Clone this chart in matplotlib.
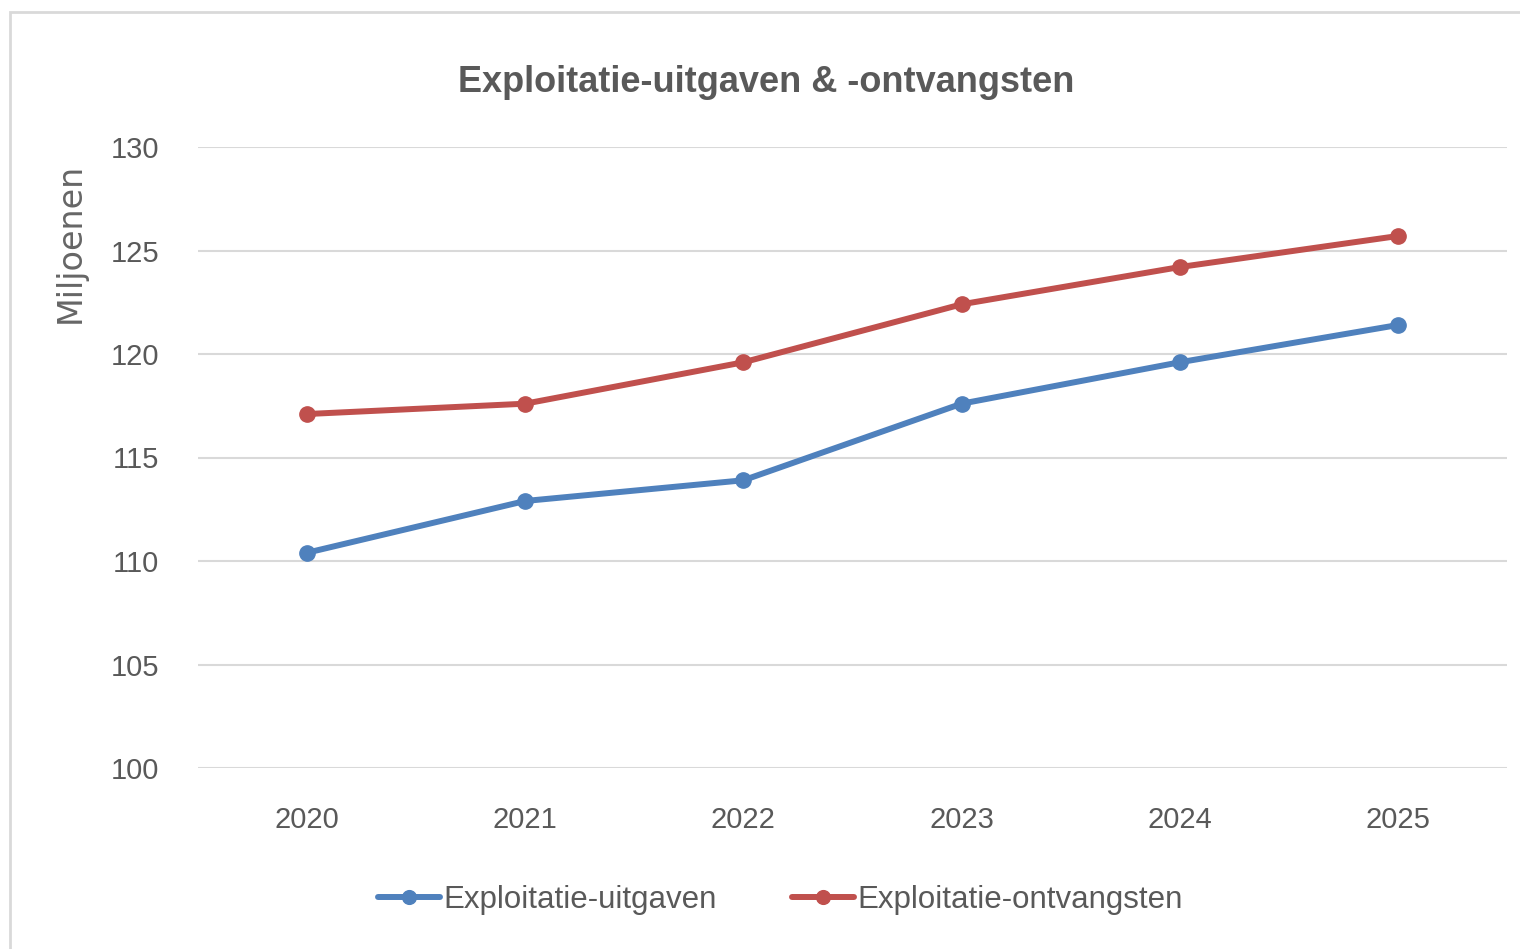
import matplotlib
matplotlib.use("Agg")
import matplotlib.pyplot as plt
from matplotlib.patches import Rectangle

years = ["2020", "2021", "2022", "2023", "2024", "2025"]
uitgaven = [110.4, 112.9, 113.9, 117.6, 119.6, 121.4]
ontvangsten = [117.1, 117.6, 119.6, 122.4, 124.2, 125.7]
yticks = [100, 105, 110, 115, 120, 125, 130]

FONT = ["Liberation Sans", "DejaVu Sans"]
TXT = "#595959"

fig = plt.figure(figsize=(15.2, 9.49), dpi=100)
fig.patches.append(Rectangle((10/1520, -0.01), 1.02, 1 - 12/949 + 0.01,
                             transform=fig.transFigure, fill=False,
                             edgecolor="#d9d9d9", linewidth=2))

ax = fig.add_axes([198/1520, 1 - 768/949, (1507-198)/1520, (768-147)/949])
x = list(range(len(years)))
ax.plot(x, uitgaven, color="#4F81BD", lw=4.3, marker="o", ms=11,
        label="Exploitatie-uitgaven", solid_capstyle="round")
ax.plot(x, ontvangsten, color="#C0504D", lw=4.3, marker="o", ms=11,
        label="Exploitatie-ontvangsten", solid_capstyle="round")

ax.set_xlim(-0.5, len(years) - 0.5)
ax.set_ylim(100, 130)
ax.set_yticks(yticks)
ax.set_xticks(x)
ax.set_xticklabels(years)
ax.grid(axis="y", color="#d9d9d9", lw=1.5)
ax.set_axisbelow(True)
for s in ax.spines.values():
    s.set_visible(False)
ax.tick_params(length=0, labelsize=21, labelcolor=TXT)
ax.tick_params(axis="y", pad=28)
ax.tick_params(axis="x", pad=27)
for lab in ax.get_xticklabels() + ax.get_yticklabels():
    lab.set_family(FONT)

fig.text(766/1520, 1 - 82/949, "Exploitatie-uitgaven & -ontvangsten",
         ha="center", va="center", fontsize=26, fontweight="bold",
         color=TXT, family=FONT)
fig.text(70/1520, 1 - 243/949, "Miljoenen", rotation=90, ha="center",
         va="center", fontsize=24, color="#666666",
         family=["DejaVu Sans"])

leg = fig.legend(loc="center", bbox_to_anchor=(780/1520, 1 - 900/949),
                 ncol=2, frameon=False, handlelength=2.0, handletextpad=0.1,
                 columnspacing=2.4, markerscale=0.9,
                 prop={"family": FONT, "size": 22.5})
for t in leg.get_texts():
    t.set_color(TXT)

fig.savefig("out.png", dpi=100, facecolor="white")
